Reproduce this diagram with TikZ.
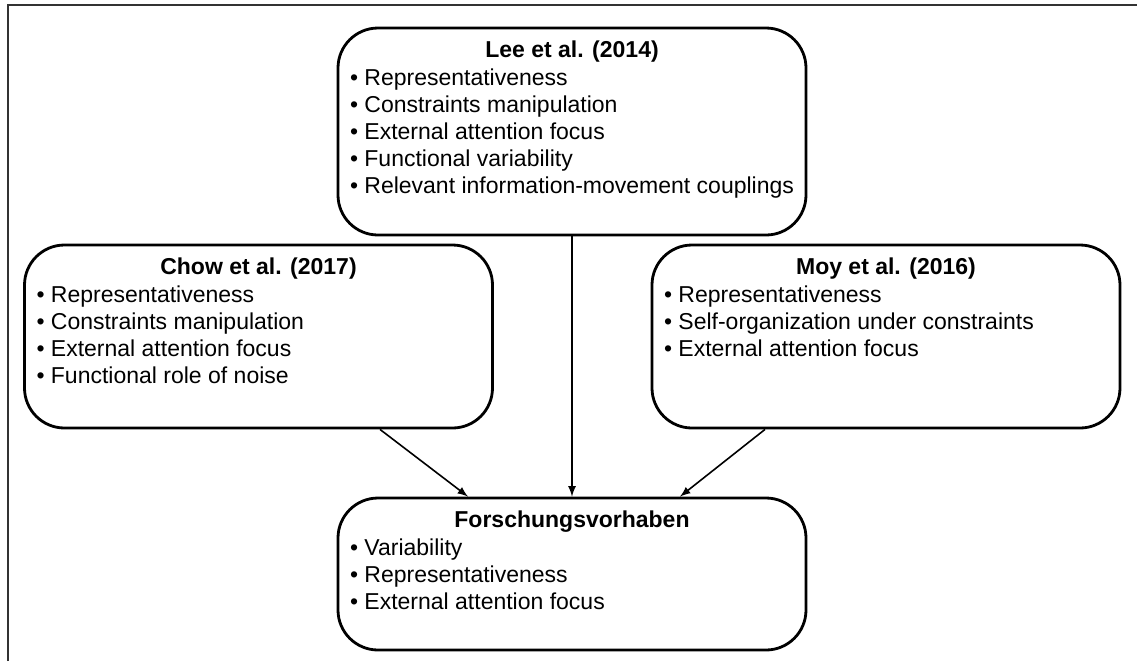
\documentclass[tikz,border=0pt]{standalone}
\usepackage{fontspec}
\setmainfont{Liberation Sans}
\usepackage{tikz}

\tikzset{
	box/.style={draw, line width=1.4pt, rounded corners=20pt, minimum width=234pt},
	title/.style={font=\fontsize{11.5}{13.5}\selectfont\bfseries, anchor=base, inner sep=0pt},
	item/.style={font=\fontsize{11.5}{13.5}\selectfont, anchor=base west, inner sep=0pt},
	arrow/.style={->, >=latex, line width=0.8pt}
}

\begin{document}
\begin{tikzpicture}[x=0.5pt, y=-0.5pt]
	\useasboundingbox (0,0) rectangle (1137,661);
	\draw[line width=1pt, black!80] (7.5,661) -- (7.5,4.5) -- (1137,4.5);
	
	\node[box, minimum height=103.5pt] (lee) at (572,131.5) {};
	\node[box, minimum height=91.5pt] (chow) at (258.5,336.5) {};
	\node[box, minimum height=91.5pt] (moy) at (886,336.5) {};
	\node[box, minimum height=76pt] (forsch) at (572,574) {};
	
	\node[title] (lee-title) at ([yshift=-15.5pt]lee.north) {Lee et al. (2014)};
	\node[title] (chow-title) at ([yshift=-15.5pt]chow.north) {Chow et al. (2017)};
	\node[title] (moy-title) at ([yshift=-15.5pt]moy.north) {Moy et al. (2016)};
	\node[title] (forsch-title) at ([yshift=-15.5pt]forsch.north) {Forschungsvorhaben};
	
	\foreach \txt [count=\i from 0] in {Representativeness, Constraints manipulation, External attention focus, Functional variability, Relevant information-movement couplings}
		\node[item] (lee-\i) at ([xshift=6.5pt, yshift={-29.5pt-\i*13.5pt}]lee.north west) {• \txt};
	\foreach \txt [count=\i from 0] in {Representativeness, Constraints manipulation, External attention focus, Functional role of noise}
		\node[item] (chow-\i) at ([xshift=6.5pt, yshift={-29.5pt-\i*13.5pt}]chow.north west) {• \txt};
	\foreach \txt [count=\i from 0] in {Representativeness, Self-organization under constraints, External attention focus}
		\node[item] (moy-\i) at ([xshift=6.5pt, yshift={-29.5pt-\i*13.5pt}]moy.north west) {• \txt};
	\foreach \txt [count=\i from 0] in {Variability, Representativeness, External attention focus}
		\node[item] (forsch-\i) at ([xshift=6.5pt, yshift={-29.5pt-\i*13.5pt}]forsch.north west) {• \txt};
	
	\draw[arrow] (lee.south) -- (forsch.north);
	\draw[arrow] ([xshift=60.75pt]chow.south) -- ([xshift=-52pt]forsch.north);
	\draw[arrow] ([xshift=-60.5pt]moy.south) -- ([xshift=54pt]forsch.north);
\end{tikzpicture}
\end{document}
